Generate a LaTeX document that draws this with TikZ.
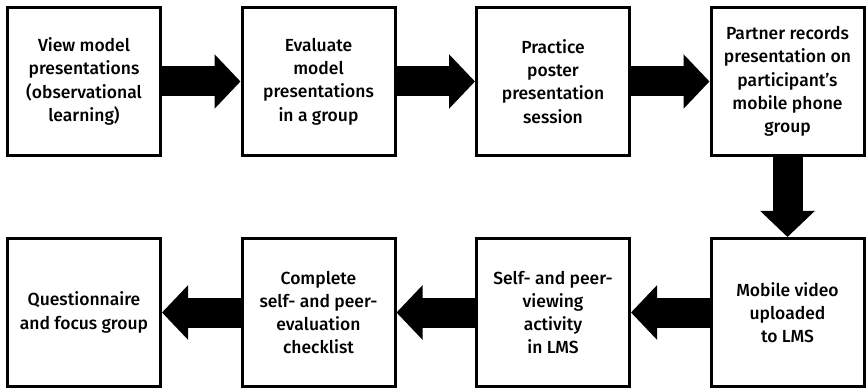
\documentclass[tikz,border=0pt]{standalone}
\usepackage{fontspec}
\setmainfont{Fira Sans}[UprightFont={* Medium}]
\usetikzlibrary{arrows.meta}
\begin{document}
\begin{tikzpicture}[x=1pt,y=-1pt,
  stepbox/.style={draw=black,line width=3pt,minimum width=153pt,minimum height=148pt,
    inner sep=0pt,align=center,font=\fontsize{17.5}{23.3}\selectfont},
  flow/.style={line width=30pt,-{Triangle[length=26pt,width=53pt]}}]
\useasboundingbox (0,0) rectangle (867,390);
\node[stepbox] (a) at (84,81.5) {View model\\presentations\\(observational\\learning)};
\node[stepbox] (b) at (318.5,81.5) {Evaluate\\model\\presentations\\in a group};
\node[stepbox] (c) at (553,81.5) {Practice\\poster\\presentation\\session};
\node[stepbox] (d) at (787.5,81.5) {Partner records\\presentation on\\participant’s\\mobile phone\\group};
\node[stepbox] (e) at (787.5,312.5) {Mobile video\\uploaded\\to LMS};
\node[stepbox] (f) at (553,312.5) {Self- and peer-\\viewing\\activity\\in LMS};
\node[stepbox] (g) at (318.5,312.5) {Complete\\self- and peer-\\evaluation\\checklist};
\node[stepbox] (h) at (84,312.5) {Questionnaire\\and focus group};
\draw[flow] (a) -- (b);
\draw[flow] (b) -- (c);
\draw[flow] (c) -- (d);
\draw[flow] (d) -- (e);
\draw[flow] (e) -- (f);
\draw[flow] (f) -- (g);
\draw[flow] (g) -- (h);
\end{tikzpicture}
\end{document}
